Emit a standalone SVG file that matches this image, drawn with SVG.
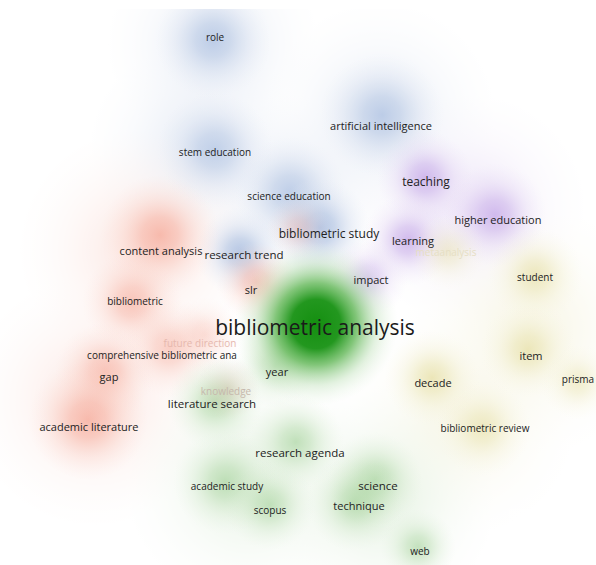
<svg xmlns="http://www.w3.org/2000/svg" width="596" height="565" viewBox="0 0 596 565">
<defs>
<radialGradient id="gB"><stop offset="0" stop-color="#a8bde0" stop-opacity="0.85"/><stop offset="0.3" stop-color="#b2c4e2" stop-opacity="0.65"/><stop offset="0.62" stop-color="#c8d4ea" stop-opacity="0.3"/><stop offset="1" stop-color="#e4eaf4" stop-opacity="0"/></radialGradient>
<radialGradient id="gP"><stop offset="0" stop-color="#c4a6e8" stop-opacity="0.85"/><stop offset="0.3" stop-color="#cbb2ea" stop-opacity="0.65"/><stop offset="0.62" stop-color="#dccaf0" stop-opacity="0.3"/><stop offset="1" stop-color="#ece2f6" stop-opacity="0"/></radialGradient>
<radialGradient id="gR"><stop offset="0" stop-color="#f5a290" stop-opacity="0.72"/><stop offset="0.3" stop-color="#f6ae9e" stop-opacity="0.58"/><stop offset="0.62" stop-color="#f9c8bc" stop-opacity="0.3"/><stop offset="1" stop-color="#fce2dc" stop-opacity="0"/></radialGradient>
<radialGradient id="gG"><stop offset="0" stop-color="#9cce92" stop-opacity="0.75"/><stop offset="0.3" stop-color="#a8d49e" stop-opacity="0.55"/><stop offset="0.62" stop-color="#c4e2bc" stop-opacity="0.28"/><stop offset="1" stop-color="#e2f0de" stop-opacity="0"/></radialGradient>
<radialGradient id="gY"><stop offset="0" stop-color="#e4dc9c" stop-opacity="0.8"/><stop offset="0.3" stop-color="#e8e2ac" stop-opacity="0.6"/><stop offset="0.62" stop-color="#f0ecc8" stop-opacity="0.3"/><stop offset="1" stop-color="#f8f6e4" stop-opacity="0"/></radialGradient>
<radialGradient id="gK"><stop offset="0" stop-color="#c8a890" stop-opacity="0.55"/><stop offset="1" stop-color="#dcc8b8" stop-opacity="0"/></radialGradient>
<radialGradient id="gMain"><stop offset="0" stop-color="#148f10"/><stop offset="0.3" stop-color="#1c9418" stop-opacity="0.97"/><stop offset="0.5" stop-color="#52b046" stop-opacity="0.72"/><stop offset="0.75" stop-color="#a8d6a0" stop-opacity="0.32"/><stop offset="1" stop-color="#dcefd8" stop-opacity="0"/></radialGradient>
<style>
text{font-family:"Open Sans","DejaVu Sans",sans-serif;font-size:10px;fill:#222;text-anchor:middle;dominant-baseline:central}
.m{font-size:11px}
.l{font-size:11.5px}
.xl{font-size:12px}
.big{font-size:21px;fill:#1a1a1a}
.faint{fill:#e6b8ae}
.fk{fill:#c6b8ac}
.fm{fill:#e6dfc4}
</style>
</defs>
<rect width="596" height="565" fill="#ffffff"/>
<g id="density">
<g opacity="0.32">
<circle cx="213" cy="45" r="105" fill="url(#gB)"/>
<circle cx="200" cy="150" r="110" fill="url(#gB)"/>
<circle cx="380" cy="118" r="115" fill="url(#gB)"/>
<circle cx="290" cy="195" r="100" fill="url(#gB)"/>
<circle cx="470" cy="210" r="115" fill="url(#gP)"/>
<circle cx="530" cy="330" r="125" fill="url(#gY)"/>
<circle cx="460" cy="420" r="115" fill="url(#gY)"/>
<circle cx="140" cy="250" r="120" fill="url(#gR)"/>
<circle cx="95" cy="400" r="125" fill="url(#gR)"/>
<circle cx="250" cy="480" r="125" fill="url(#gG)"/>
<circle cx="380" cy="500" r="115" fill="url(#gG)"/>
</g>
<circle cx="213" cy="40" r="58" fill="url(#gB)" opacity="0.8"/>
<circle cx="215" cy="150" r="58" fill="url(#gB)" opacity="0.75"/>
<circle cx="382" cy="115" r="62" fill="url(#gB)" opacity="0.8"/>
<circle cx="290" cy="192" r="55" fill="url(#gB)" opacity="0.75"/>
<circle cx="320" cy="228" r="50" fill="url(#gB)" opacity="1"/>
<circle cx="240" cy="252" r="45" fill="url(#gB)" opacity="1"/>
<circle cx="425" cy="178" r="48" fill="url(#gP)" opacity="0.9"/>
<circle cx="495" cy="215" r="52" fill="url(#gP)" opacity="0.85"/>
<circle cx="408" cy="240" r="46" fill="url(#gP)" opacity="0.9"/>
<circle cx="368" cy="278" r="40" fill="url(#gP)" opacity="0.7"/>
<circle cx="535" cy="275" r="48" fill="url(#gY)" opacity="0.8"/>
<circle cx="528" cy="350" r="48" fill="url(#gY)" opacity="0.8"/>
<circle cx="578" cy="382" r="38" fill="url(#gY)" opacity="0.6"/>
<circle cx="432" cy="378" r="48" fill="url(#gY)" opacity="0.85"/>
<circle cx="483" cy="428" r="48" fill="url(#gY)" opacity="0.7"/>
<circle cx="448" cy="252" r="38" fill="url(#gY)" opacity="0.55"/>
<circle cx="160" cy="235" r="60" fill="url(#gR)" opacity="0.95"/>
<circle cx="132" cy="302" r="50" fill="url(#gR)" opacity="0.8"/>
<circle cx="256" cy="282" r="40" fill="url(#gR)" opacity="0.8"/>
<circle cx="298" cy="228" r="32" fill="url(#gR)" opacity="0.45"/>
<circle cx="170" cy="348" r="50" fill="url(#gR)" opacity="0.7"/>
<circle cx="105" cy="372" r="50" fill="url(#gR)" opacity="0.8"/>
<circle cx="88" cy="420" r="60" fill="url(#gR)" opacity="0.95"/>
<circle cx="205" cy="335" r="38" fill="url(#gR)" opacity="0.45"/>
<circle cx="275" cy="366" r="42" fill="url(#gG)" opacity="0.7"/>
<circle cx="215" cy="402" r="48" fill="url(#gG)" opacity="0.85"/>
<circle cx="228" cy="388" r="32" fill="url(#gK)" opacity="0.6"/>
<circle cx="296" cy="442" r="48" fill="url(#gG)" opacity="0.8"/>
<circle cx="225" cy="482" r="52" fill="url(#gG)" opacity="0.8"/>
<circle cx="270" cy="505" r="45" fill="url(#gG)" opacity="0.75"/>
<circle cx="375" cy="480" r="48" fill="url(#gG)" opacity="0.85"/>
<circle cx="355" cy="503" r="48" fill="url(#gG)" opacity="0.8"/>
<circle cx="418" cy="547" r="38" fill="url(#gG)" opacity="0.75"/>
<circle cx="316" cy="324" r="82" fill="url(#gMain)"/>
</g>
<rect x="0" y="0" width="596" height="9" fill="#ffffff"/>
<g id="connectors"/>
<g id="n-role"><text x="215" y="37">role</text></g>
<g id="n-artificial-intelligence"><text class="m" x="381" y="125">artificial intelligence</text></g>
<g id="n-stem-education"><text x="215" y="152">stem education</text></g>
<g id="n-teaching"><text class="xl" x="426" y="181">teaching</text></g>
<g id="n-science-education"><text x="289" y="196">science education</text></g>
<g id="n-higher-education"><text class="m" x="498" y="219">higher education</text></g>
<g id="n-bibliometric-study"><text class="xl" x="329" y="233">bibliometric study</text></g>
<g id="n-learning"><text class="m" x="413" y="240">learning</text></g>
<g id="n-metaanalysis"><text class="fm" x="446" y="252">metaanalysis</text></g>
<g id="n-content-analysis"><text class="m" x="161" y="250">content analysis</text></g>
<g id="n-research-trend"><text class="l" x="244" y="254">research trend</text></g>
<g id="n-impact"><text class="m" x="371" y="279">impact</text></g>
<g id="n-student"><text x="535" y="277">student</text></g>
<g id="n-slr"><text class="m" x="251" y="289">slr</text></g>
<g id="n-bibliometric"><text x="135" y="301">bibliometric</text></g>
<g id="n-bibliometric-analysis"><text class="big" x="315" y="327">bibliometric analysis</text></g>
<g id="n-future-direction"><text class="faint" x="200" y="343">future direction</text></g>
<g id="n-comprehensive"><text x="162" y="355">comprehensive bibliometric ana</text></g>
<g id="n-year"><text class="m" x="277" y="371">year</text></g>
<g id="n-gap"><text class="m" x="109" y="376">gap</text></g>
<g id="n-item"><text class="m" x="531" y="355">item</text></g>
<g id="n-decade"><text class="m" x="433" y="382">decade</text></g>
<g id="n-prisma"><text x="578" y="379">prisma</text></g>
<g id="n-knowledge"><text class="fk" x="226" y="391">knowledge</text></g>
<g id="n-literature-search"><text class="l" x="212" y="403">literature search</text></g>
<g id="n-academic-literature"><text class="m" x="89" y="426">academic literature</text></g>
<g id="n-bibliometric-review"><text x="485" y="428">bibliometric review</text></g>
<g id="n-research-agenda"><text class="l" x="300" y="452">research agenda</text></g>
<g id="n-academic-study"><text x="227" y="486">academic study</text></g>
<g id="n-science"><text class="l" x="378" y="485">science</text></g>
<g id="n-scopus"><text x="270" y="510">scopus</text></g>
<g id="n-technique"><text class="m" x="359" y="505">technique</text></g>
<g id="n-web"><text x="420" y="551">web</text></g>
</svg>
